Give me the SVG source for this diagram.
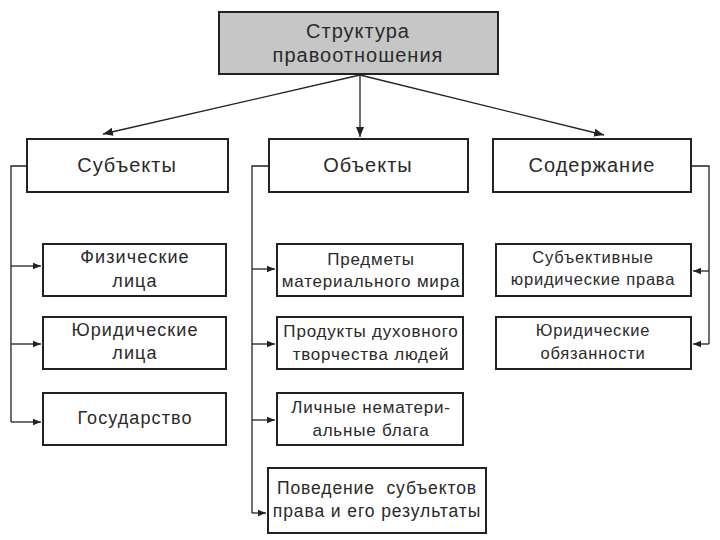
<svg xmlns="http://www.w3.org/2000/svg" width="720" height="540" viewBox="0 0 720 540">
<style>
.box{fill:#fff;stroke:#222;stroke-width:2}
.top{fill:#c6c6c6;stroke:#222;stroke-width:2}
.t{font-family:"Liberation Sans",Arial,sans-serif;fill:#2a2a2a;text-anchor:middle}
.h{font-size:20px;letter-spacing:1px}
.s{font-size:16.5px;letter-spacing:0.8px}
.l{font-size:18px;letter-spacing:1.1px}
.m{font-size:17px;letter-spacing:0.8px}
.p{font-size:17.5px;letter-spacing:0.9px}
.c{fill:none;stroke:#222;stroke-width:1.3}
</style>
<defs>
<marker id="ah" viewBox="0 0 10 10" refX="10" refY="5" markerWidth="8" markerHeight="8" markerUnits="userSpaceOnUse" orient="auto">
<path d="M0,1 L10,5 L0,9 z" fill="#222"/>
</marker>
<marker id="ah2" viewBox="0 0 10 10" refX="10" refY="5" markerWidth="10" markerHeight="10" markerUnits="userSpaceOnUse" orient="auto">
<path d="M0,1 L10,5 L0,9 z" fill="#222"/>
</marker>
</defs>
<g id="connectors">
<path class="c" d="M360,75 L103,134" marker-end="url(#ah2)"/>
<path class="c" d="M360,75 L360,137" marker-end="url(#ah2)"/>
<path class="c" d="M360,75 L604,135" marker-end="url(#ah2)"/>
<path class="c" d="M27,166 H11 V422"/>
<path class="c" d="M11,266 H41" marker-end="url(#ah)"/>
<path class="c" d="M11,344 H41" marker-end="url(#ah)"/>
<path class="c" d="M11,422 H41" marker-end="url(#ah)"/>
<path class="c" d="M269,166 H252 V513"/>
<path class="c" d="M252,269 H275" marker-end="url(#ah)"/>
<path class="c" d="M252,344 H275" marker-end="url(#ah)"/>
<path class="c" d="M252,420 H275" marker-end="url(#ah)"/>
<path class="c" d="M252,513 H266" marker-end="url(#ah)"/>
<path class="c" d="M691,166 H709 V344"/>
<path class="c" d="M709,271 H693" marker-end="url(#ah)"/>
<path class="c" d="M709,344 H693" marker-end="url(#ah)"/>
</g>
<g id="root">
<rect class="top" x="219" y="12" width="279" height="62"/>
<text class="t h" x="358" y="38">Структура</text>
<text class="t h" x="358" y="62">правоотношения</text>
</g>
<g id="subjects">
<rect class="box" x="27" y="139" width="201" height="53"/>
<text class="t h" x="127" y="172">Субъекты</text>
</g>
<g id="objects">
<rect class="box" x="269" y="139" width="199" height="53"/>
<text class="t h" x="368" y="172">Объекты</text>
</g>
<g id="content">
<rect class="box" x="493" y="139" width="198" height="53"/>
<text class="t h" x="592" y="172">Содержание</text>
</g>
<g id="physical">
<rect class="box" x="43" y="244" width="183" height="52"/>
<text class="t l" x="135" y="263">Физические</text>
<text class="t l" x="135" y="287">лица</text>
</g>
<g id="legal">
<rect class="box" x="43" y="317" width="183" height="52"/>
<text class="t l" x="135" y="336">Юридические</text>
<text class="t l" x="135" y="359">лица</text>
</g>
<g id="state">
<rect class="box" x="43" y="393" width="183" height="52"/>
<text class="t l" x="135" y="424">Государство</text>
</g>
<g id="material">
<rect class="box" x="277" y="244" width="186" height="52"/>
<text class="t m" x="371" y="265">Предметы</text>
<text class="t m" x="371" y="287">материального мира</text>
</g>
<g id="spiritual">
<rect class="box" x="277" y="317" width="186" height="52"/>
<text class="t m" x="371" y="337">Продукты духовного</text>
<text class="t m" x="371" y="360">творчества людей</text>
</g>
<g id="personal">
<rect class="box" x="277" y="393" width="186" height="52"/>
<text class="t m" x="371" y="413">Личные нематери-</text>
<text class="t m" x="371" y="436">альные блага</text>
</g>
<g id="behavior">
<rect class="box" x="268" y="468" width="218" height="65"/>
<text class="t p" x="377" y="494" style="white-space:pre">Поведение  субъектов</text>
<text class="t p" x="377" y="517">права и его результаты</text>
</g>
<g id="rights">
<rect class="box" x="496" y="244" width="195" height="52"/>
<text class="t s" x="593" y="263">Субъективные</text>
<text class="t s" x="593" y="285">юридические права</text>
</g>
<g id="duties">
<rect class="box" x="496" y="317" width="195" height="52"/>
<text class="t s" x="593" y="336">Юридические</text>
<text class="t s" x="593" y="359">обязанности</text>
</g>
</svg>
